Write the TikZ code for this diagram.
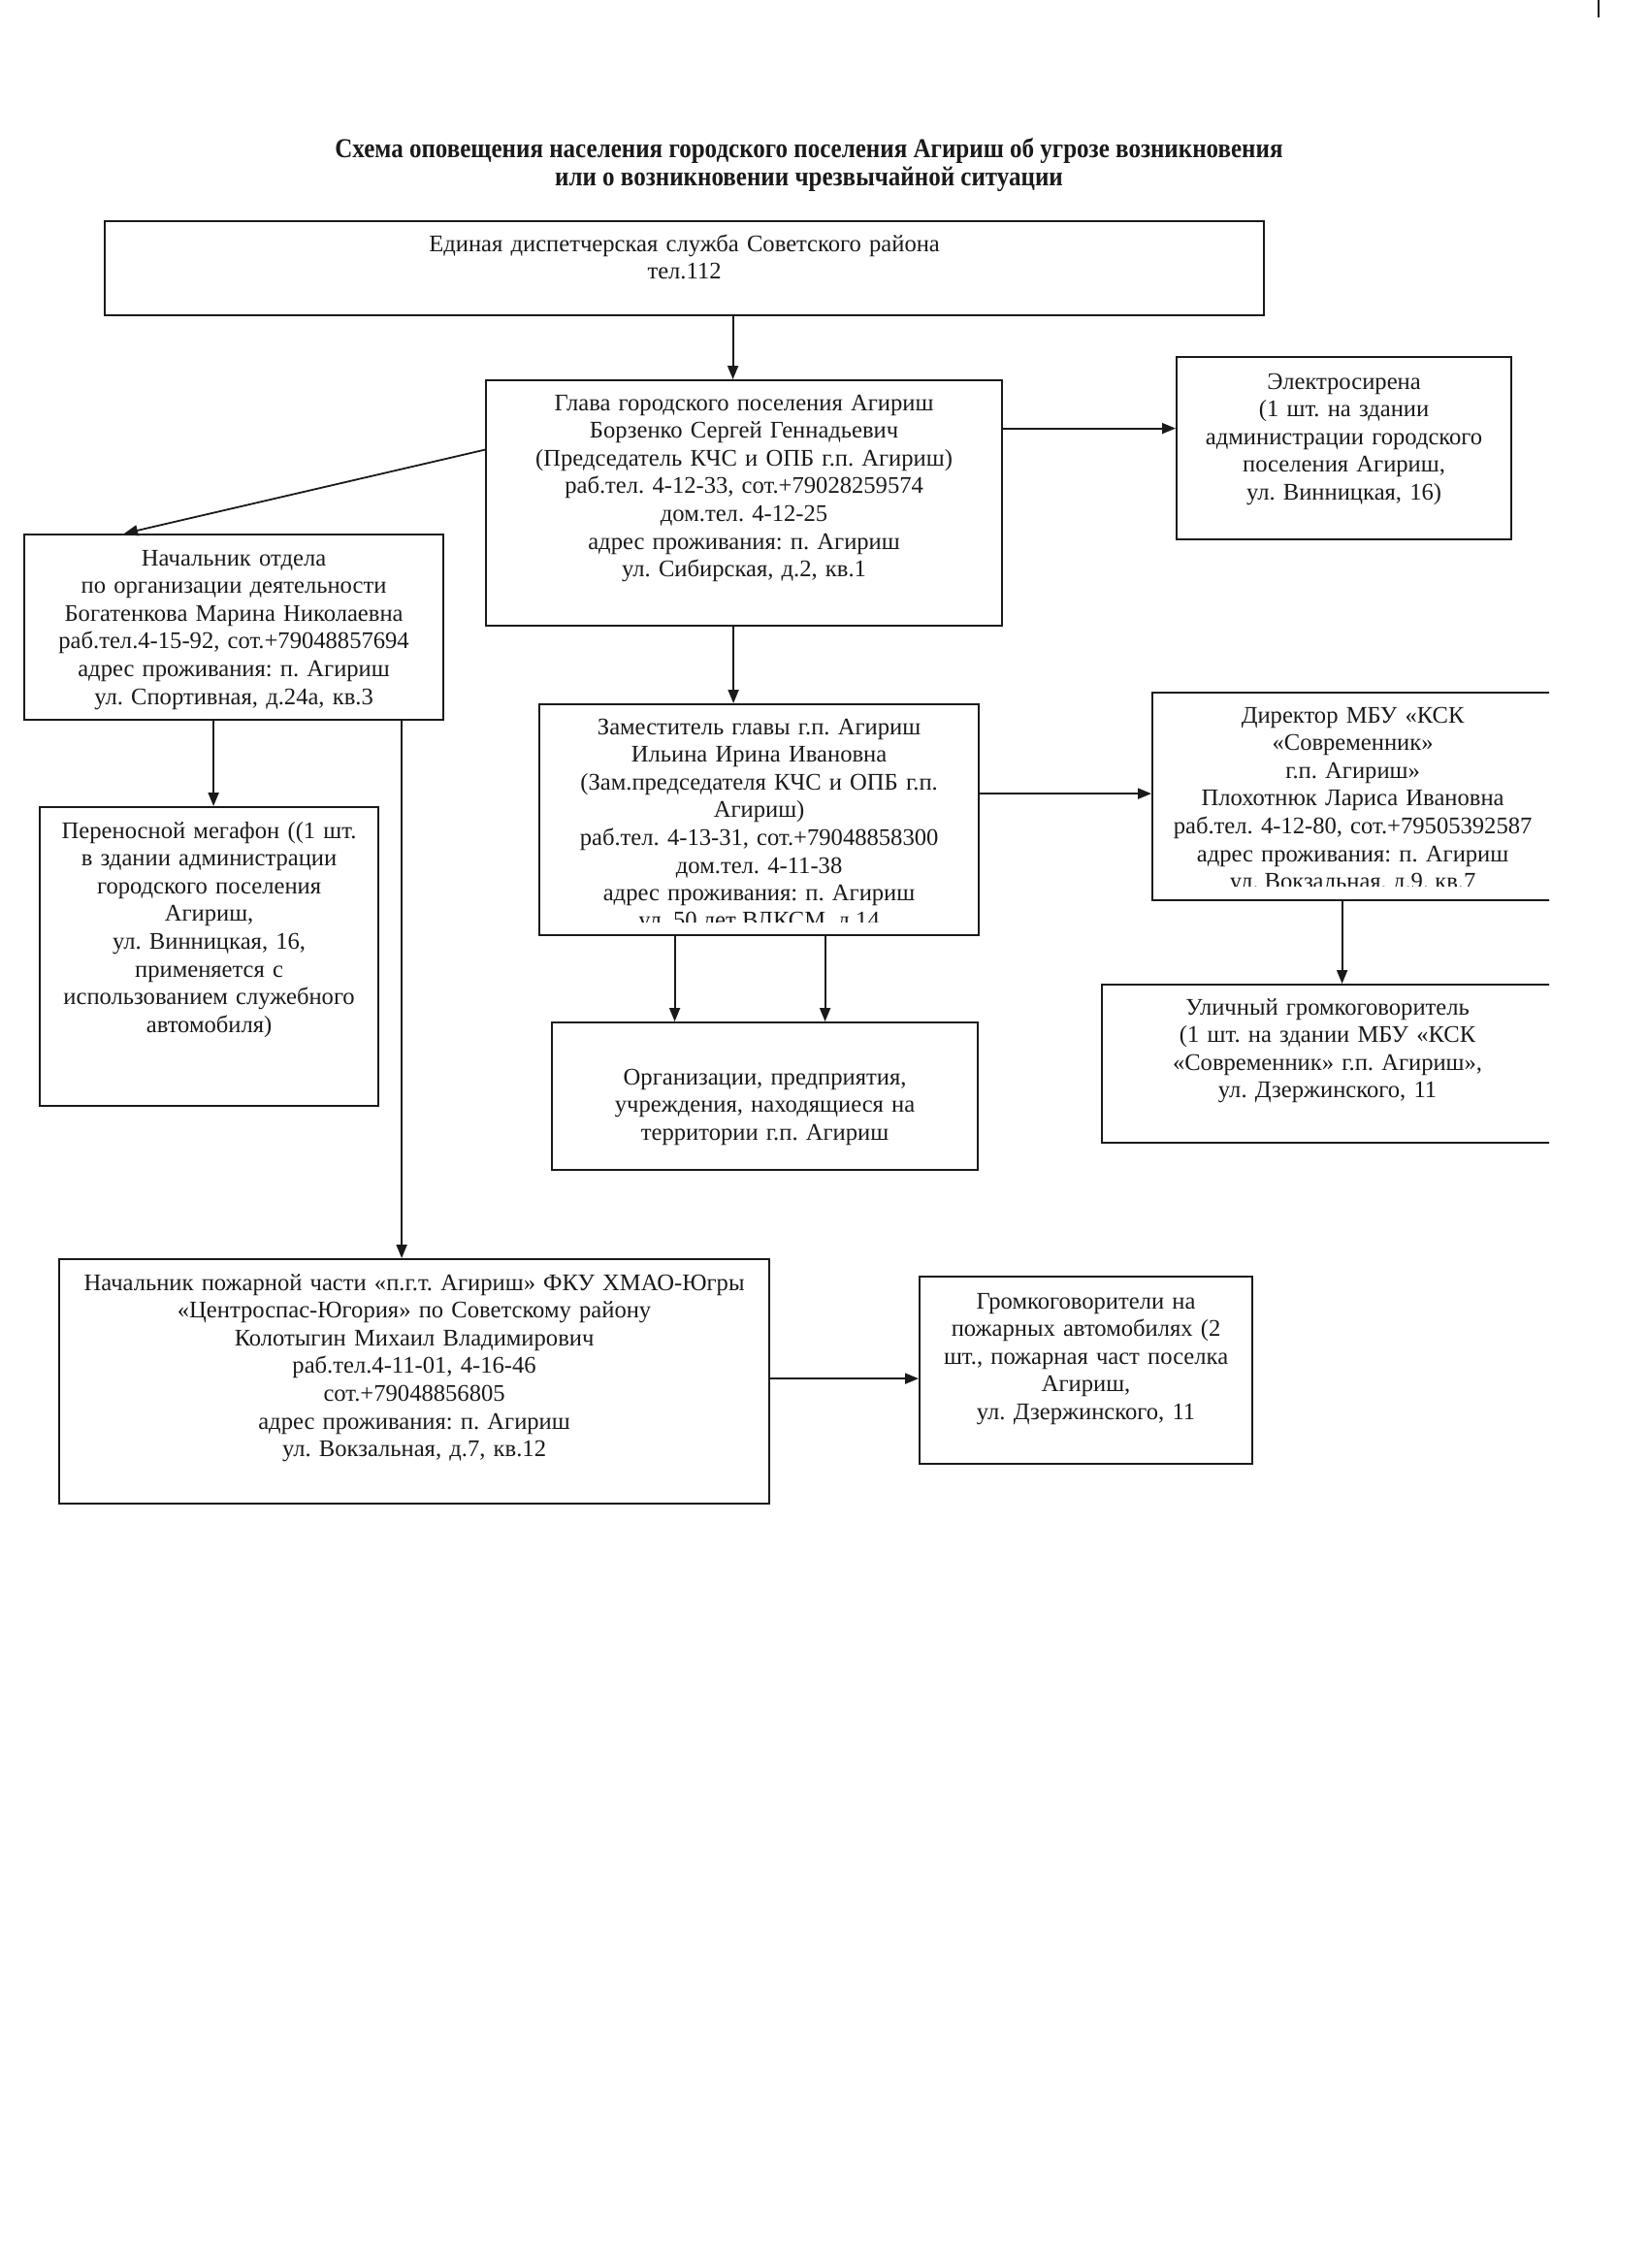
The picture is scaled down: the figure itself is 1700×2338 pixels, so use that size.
\documentclass[tikz,border=0pt]{standalone}
\usepackage{fontspec}
\setmainfont{Liberation Serif}
\newfontfamily\headfont[FakeStretch=0.89]{Liberation Serif}
\frenchspacing
\usepackage{tikz}
\definecolor{ink}{HTML}{1A1A1A}
\usetikzlibrary{
  arrows.meta,
  positioning,
  calc
}
\tikzset{
  >={Triangle[length=1.4mm,width=1.1mm]},
  every node/.style={text=ink},
  box/.style={
    draw=ink,
    line width=0.22mm,
    align=center,
    inner sep=0pt,
    anchor=north west,
    text height=3.1mm,
    font=\fontsize{7}{8.14}\selectfont
  },
  arrow/.style={->, line width=0.18mm, draw=ink},
  lastline/.style={anchor=base, inner sep=0pt, font=\fontsize{7}{8.14}\selectfont},
  heading/.style={align=center, font=\headfont\bfseries\fontsize{8}{8.5}\selectfont}
}

\begin{document}
\begin{tikzpicture}[x=0.1mm, y=-0.1mm]
  \useasboundingbox (0,0) rectangle (1700,2338);
  \draw[ink, line width=0.2mm] (1648,0) -- (1648,18);

  % Heading
  \node[heading] (title) at (834,170) {Схема оповещения населения городского поселения Агириш об угрозе возникновения\\или о возникновении чрезвычайной ситуации};

  % Dispatch service and head of the settlement
  \node[box, text width=119.5mm, text depth=6.6mm] (edds) at (107,227) {Единая диспетчерская служба Советского района\\тел.112};
  \node[box, text width=53.2mm, text depth=22.2mm] (glava) at (500,391) {Глава городского поселения Агириш\\Борзенко Сергей Геннадьевич\\(Председатель КЧС и ОПБ г.п. Агириш)\\раб.тел. 4-12-33, сот.+79028259574\\дом.тел. 4-12-25\\адрес проживания: п. Агириш\\ул. Сибирская, д.2, кв.1};
  \node[box, text width=34.5mm, text depth=15.5mm, text height=3.3mm] (siren) at (1212,367) {Электросирена\\(1 шт. на здании\\администрации городского\\поселения Агириш,\\ул. Винницкая, 16)};

  % Left branch
  \node[box, text width=43.2mm, text depth=15.9mm, text height=3.2mm] (otdel) at (24,550) {Начальник отдела\\по организации деятельности\\Богатенкова Марина Николаевна\\раб.тел.4-15-92, сот.+79048857694\\адрес проживания: п. Агириш\\ул. Спортивная, д.24а, кв.3};
  \node[box, text width=34.9mm, text depth=27.6mm, text height=3.2mm] (megafon) at (40,831) {Переносной мегафон ((1 шт.\\в здании администрации\\городского поселения\\Агириш,\\ул. Винницкая, 16,\\применяется с\\использованием служебного\\автомобиля)};

  % Deputy and organisations
  \node[box, text width=45.3mm, text depth=20.7mm] (zam) at (555,725) {Заместитель главы г.п. Агириш\\Ильина Ирина Ивановна\\(Зам.председателя КЧС и ОПБ г.п.\\Агириш)\\раб.тел. 4-13-31, сот.+79048858300\\дом.тел. 4-11-38\\адрес проживания: п. Агириш};
  \begin{scope}
    \clip ($(zam.south west)+(0,-15)$) rectangle (zam.north east);
    \node[lastline] (zamlast) at ($(zam.north)+(0,231)$) {ул. 50 лет ВЛКСМ, д.14};
  \end{scope}
  \node[box, text width=43.9mm, text depth=8.8mm, text height=6.4mm] (org) at (568,1053) {Организации, предприятия,\\учреждения, находящиеся на\\территории г.п. Агириш};

  % Right branch, cut at the page edge
  \begin{scope}
    \clip (0,0) rectangle (1597,2338);
    \node[box, text width=41.3mm, text depth=18.3mm] (dir) at (1187,713) {Директор МБУ «КСК\\«Современник»\\г.п. Агириш»\\Плохотнюк Лариса Ивановна\\раб.тел. 4-12-80, сот.+79505392587\\адрес проживания: п. Агириш};
    \node[box, text width=46.5mm, text depth=13.2mm] (street) at (1135,1014) {Уличный громкоговоритель\\(1 шт. на здании МБУ «КСК\\«Современник» г.п. Агириш»,\\ул. Дзержинского, 11};
    \clip ($(dir.south west)+(0,-16)$) rectangle (dir.north east);
    \node[lastline] (dirlast) at ($(dir.north)+(0,203)$) {ул. Вокзальная, д.9, кв.7};
  \end{scope}

  % Fire brigade
  \node[box, text width=73.2mm, text depth=22.0mm, text height=3.2mm] (fire) at (60,1297) {Начальник пожарной части «п.г.т. Агириш» ФКУ ХМАО-Югры\\«Центроспас-Югория» по Советскому району\\Колотыгин Михаил Владимирович\\раб.тел.4-11-01, 4-16-46\\сот.+79048856805\\адрес проживания: п. Агириш\\ул. Вокзальная, д.7, кв.12};
  \node[box, text width=34.3mm, text depth=16.0mm, text height=3.3mm] (firecar) at (947,1315) {Громкоговорители на\\пожарных автомобилях (2\\шт., пожарная част поселка\\Агириш,\\ул. Дзержинского, 11};

  % Connectors
  \draw[arrow] ($(edds.south)+(50,0)$) coordinate (e1) -- (e1 |- glava.north);
  \draw[arrow] ($(glava.east)+(0,-77)$) coordinate (g1) -- (g1 -| siren.west);
  \draw[arrow] ($(glava.west)+(0,-55)$) -- ($(otdel.north west)+(104,0)$);
  \draw[arrow] ($(glava.south)+(-11,0)$) coordinate (g2) -- (g2 |- zam.north);
  \draw[arrow] ($(zam.east)+(0,-27)$) coordinate (z1) -- (z1 -| dir.west);
  \draw[arrow] ($(zam.south)+(-87,0)$) coordinate (z2) -- (z2 |- org.north);
  \draw[arrow] ($(zam.south)+(68,0)$) coordinate (z3) -- (z3 |- org.north);
  \draw[arrow] ($(dir.south)+(-11,0)$) coordinate (d1) -- (d1 |- street.north);
  \draw[arrow] ($(otdel.south)+(-21,0)$) coordinate (o1) -- (o1 |- megafon.north);
  \draw[arrow] ($(otdel.south)+(173,0)$) coordinate (o2) -- (o2 |- fire.north);
  \draw[arrow] ($(fire.east)+(0,-3)$) coordinate (f1) -- (f1 -| firecar.west);
\end{tikzpicture}
\end{document}
